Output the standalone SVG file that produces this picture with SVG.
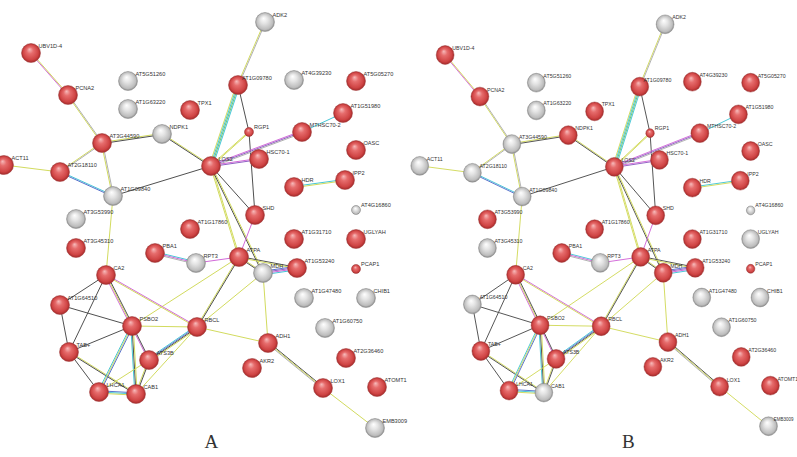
<svg xmlns="http://www.w3.org/2000/svg" xmlns:xlink="http://www.w3.org/1999/xlink" width="797" height="457" viewBox="0 0 797 457">
<defs>
<radialGradient id="gr" cx="0.5" cy="0.5" r="0.5" fx="0.42" fy="0.3">
<stop offset="0" stop-color="#f7bcbc"/><stop offset="0.35" stop-color="#e66c6c"/><stop offset="0.8" stop-color="#cf4444"/><stop offset="1" stop-color="#a52a2a"/>
</radialGradient>
<radialGradient id="gg" cx="0.5" cy="0.5" r="0.5" fx="0.42" fy="0.3">
<stop offset="0" stop-color="#ffffff"/><stop offset="0.4" stop-color="#e4e4e4"/><stop offset="0.85" stop-color="#bdbdbd"/><stop offset="1" stop-color="#8c8c8c"/>
</radialGradient>
<style>
line{stroke-width:1;fill:none}
.Y{stroke:#d2db5e}.K{stroke:#505050}.L{stroke:#b0b0b0}.C{stroke:#45c6d6}.B{stroke:#5a72cc}.M{stroke:#d26ad9}.P{stroke:#9160c4}.G{stroke:#72c46c}
.r{fill:url(#gr);stroke:#a13a3a;stroke-width:.5}
.g{fill:url(#gg);stroke:#8a8a8a;stroke-width:.5}
text{font-family:"Liberation Sans",Arial,sans-serif;font-size:5.6px;fill:#333}
.pl{font-family:"Liberation Serif","Times New Roman",serif;font-size:19px;fill:#333}
</style>
</defs>
<rect width="797" height="457" fill="#fff"/>

<g id="connectors-A">
<line class="M" x1="30.4" y1="53" x2="67.4" y2="95"/><line class="Y" x1="31.6" y1="53" x2="68.6" y2="95"/>
<line class="Y" x1="67.4" y1="95" x2="101.4" y2="143"/><line class="L" x1="68.6" y1="95" x2="102.6" y2="143"/>
<line class="Y" x1="102" y1="142.4" x2="162" y2="133.4"/><line class="K" x1="102" y1="143.6" x2="162" y2="134.6"/>
<line class="Y" x1="162" y1="133.4" x2="211" y2="165.4"/><line class="K" x1="162" y1="134.6" x2="211" y2="166.6"/>
<line class="Y" x1="102" y1="142.4" x2="60" y2="171.4"/><line class="L" x1="102" y1="143.6" x2="60" y2="172.6"/>
<line class="Y" x1="101.4" y1="143" x2="112.4" y2="196"/><line class="L" x1="102.6" y1="143" x2="113.6" y2="196"/>
<line class="Y" x1="4" y1="165" x2="60" y2="172"/>
<line class="C" x1="60" y1="171.4" x2="113" y2="195.4"/><line class="B" x1="60" y1="172.6" x2="113" y2="196.6"/>
<line class="K" x1="113" y1="196" x2="211" y2="166"/>
<line class="Y" x1="113" y1="196" x2="106" y2="275"/>
<line class="Y" x1="264.4" y1="22" x2="237.4" y2="85"/><line class="L" x1="265.6" y1="22" x2="238.6" y2="85"/>
<line class="Y" x1="236.2" y1="85" x2="209.2" y2="166"/><line class="C" x1="237.4" y1="85" x2="210.4" y2="166"/><line class="G" x1="238.6" y1="85" x2="211.6" y2="166"/><line class="C" x1="239.8" y1="85" x2="212.8" y2="166"/>
<line class="K" x1="238" y1="85" x2="249" y2="132"/>
<line class="Y" x1="249" y1="131.4" x2="211" y2="165.4"/><line class="Y" x1="249" y1="132.6" x2="211" y2="166.6"/>
<line class="K" x1="249" y1="132" x2="255" y2="215"/>
<line class="M" x1="211" y1="164.8" x2="302" y2="130.8"/><line class="P" x1="211" y1="166" x2="302" y2="132"/><line class="L" x1="211" y1="167.2" x2="302" y2="133.2"/>
<line class="M" x1="211" y1="165.4" x2="259" y2="158.4"/><line class="P" x1="211" y1="166.6" x2="259" y2="159.6"/>
<line class="C" x1="302" y1="132" x2="343" y2="113"/>
<line class="C" x1="294" y1="186.4" x2="345" y2="179.4"/><line class="Y" x1="294" y1="187.6" x2="345" y2="180.6"/>
<line class="K" x1="211" y1="166" x2="255" y2="215"/>
<line class="Y" x1="210.4" y1="166" x2="238.4" y2="257"/><line class="Y" x1="211.6" y1="166" x2="239.6" y2="257"/>
<line class="K" x1="210.4" y1="166" x2="262.4" y2="273"/><line class="Y" x1="211.6" y1="166" x2="263.6" y2="273"/>
<line class="M" x1="255" y1="215" x2="239" y2="257"/>
<line class="M" x1="239" y1="257" x2="196" y2="263"/>
<line class="C" x1="155" y1="251.8" x2="196" y2="261.8"/><line class="M" x1="155" y1="253" x2="196" y2="263"/><line class="L" x1="155" y1="254.2" x2="196" y2="264.2"/>
<line class="Y" x1="239" y1="256.4" x2="263" y2="272.4"/><line class="K" x1="239" y1="257.6" x2="263" y2="273.6"/>
<line class="K" x1="239" y1="256.4" x2="297" y2="267.4"/><line class="Y" x1="239" y1="257.6" x2="297" y2="268.6"/>
<line class="B" x1="263" y1="271.2" x2="297" y2="266.2"/><line class="P" x1="263" y1="272.4" x2="297" y2="267.4"/><line class="M" x1="263" y1="273.6" x2="297" y2="268.6"/><line class="C" x1="263" y1="274.8" x2="297" y2="269.8"/>
<line class="Y" x1="238.4" y1="257" x2="196.4" y2="327"/><line class="K" x1="239.6" y1="257" x2="197.6" y2="327"/>
<line class="Y" x1="239" y1="257" x2="132" y2="326"/>
<line class="Y" x1="197" y1="327" x2="263" y2="273"/>
<line class="Y" x1="263" y1="273" x2="268" y2="343"/>
<line class="Y" x1="197" y1="327" x2="268" y2="343"/>
<line class="K" x1="268" y1="341.8" x2="323" y2="386.8"/><line class="Y" x1="268" y1="343" x2="323" y2="388"/><line class="L" x1="268" y1="344.2" x2="323" y2="389.2"/>
<line class="Y" x1="323" y1="388" x2="375" y2="428"/>
<line class="K" x1="106" y1="275" x2="60" y2="305"/>
<line class="K" x1="106" y1="275" x2="69" y2="352"/>
<line class="M" x1="104.8" y1="275" x2="130.8" y2="326"/><line class="Y" x1="106" y1="275" x2="132" y2="326"/><line class="K" x1="107.2" y1="275" x2="133.2" y2="326"/>
<line class="M" x1="106" y1="274.4" x2="197" y2="326.4"/><line class="Y" x1="106" y1="275.6" x2="197" y2="327.6"/>
<line class="K" x1="60" y1="305" x2="132" y2="326"/>
<line class="K" x1="60" y1="305" x2="69" y2="352"/>
<line class="K" x1="69" y1="352" x2="132" y2="326"/>
<line class="K" x1="69" y1="352" x2="99" y2="392"/>
<line class="Y" x1="69" y1="351.4" x2="136" y2="393.4"/><line class="K" x1="69" y1="352.6" x2="136" y2="394.6"/>
<line class="C" x1="130.8" y1="326" x2="97.8" y2="392"/><line class="Y" x1="132" y1="326" x2="99" y2="392"/><line class="B" x1="133.2" y1="326" x2="100.2" y2="392"/>
<line class="C" x1="130.8" y1="326" x2="134.8" y2="394"/><line class="K" x1="132" y1="326" x2="136" y2="394"/><line class="Y" x1="133.2" y1="326" x2="137.2" y2="394"/>
<line class="M" x1="131.4" y1="326" x2="148.4" y2="360"/><line class="K" x1="132.6" y1="326" x2="149.6" y2="360"/>
<line class="Y" x1="132" y1="326" x2="197" y2="327"/>
<line class="C" x1="149" y1="358.2" x2="197" y2="325.2"/><line class="B" x1="149" y1="359.4" x2="197" y2="326.4"/><line class="K" x1="149" y1="360.6" x2="197" y2="327.6"/><line class="Y" x1="149" y1="361.8" x2="197" y2="328.8"/>
<line class="Y" x1="149" y1="360" x2="99" y2="392"/>
<line class="Y" x1="148.4" y1="360" x2="135.4" y2="394"/><line class="K" x1="149.6" y1="360" x2="136.6" y2="394"/>
<line class="B" x1="99" y1="390.8" x2="136" y2="392.8"/><line class="C" x1="99" y1="392" x2="136" y2="394"/><line class="Y" x1="99" y1="393.2" x2="136" y2="395.2"/>
<line class="Y" x1="136" y1="394" x2="197" y2="327"/>
</g>

<g id="nodes-A">
<g id="a-UBV1D-4"><circle class="r" cx="31" cy="53" r="9.5"/><text x="38.5" y="48">UBV1D-4</text></g>
<g id="a-PCNA2"><circle class="r" cx="68" cy="95" r="9.5"/><text x="75.5" y="90">PCNA2</text></g>
<g id="a-AT5G51260"><circle class="g" cx="128" cy="81" r="9.5"/><text x="135.5" y="76">AT5G51260</text></g>
<g id="a-AT1G63220"><circle class="g" cx="128" cy="109" r="9.5"/><text x="135.5" y="104">AT1G63220</text></g>
<g id="a-TPX1"><circle class="r" cx="190" cy="110" r="9.5"/><text x="197.5" y="105">TPX1</text></g>
<g id="a-AT3G44590"><circle class="r" cx="102" cy="143" r="9.5"/><text x="109.5" y="138">AT3G44590</text></g>
<g id="a-NDPK1"><circle class="g" cx="162" cy="134" r="9.5"/><text x="169.5" y="129">NDPK1</text></g>
<g id="a-ADK2"><circle class="g" cx="265" cy="22" r="9.5"/><text x="272.5" y="17">ADK2</text></g>
<g id="a-AT1G09780"><circle class="r" cx="238" cy="85" r="9.5"/><text x="242" y="80">AT1G09780</text></g>
<g id="a-AT4G39230"><circle class="g" cx="294" cy="80" r="9.5"/><text x="301.5" y="75">AT4G39230</text></g>
<g id="a-AT5G05270"><circle class="r" cx="356" cy="81" r="9.5"/><text x="363.5" y="76">AT5G05270</text></g>
<g id="a-AT1G51980"><circle class="r" cx="343" cy="113" r="9.5"/><text x="350.5" y="108">AT1G51980</text></g>
<g id="a-RGP1"><circle class="r" cx="249" cy="132" r="4.5"/><text x="254" y="129">RGP1</text></g>
<g id="a-MTHSC70-2"><circle class="r" cx="302" cy="132" r="9.5"/><text x="309.5" y="127">MTHSC70-2</text></g>
<g id="a-OASC"><circle class="r" cx="356" cy="150" r="9.5"/><text x="363.5" y="145">OASC</text></g>
<g id="a-ACT11"><circle class="r" cx="4" cy="165" r="9.5"/><text x="11.5" y="160">ACT11</text></g>
<g id="a-AT2G18110"><circle class="r" cx="60" cy="172" r="9.5"/><text x="67.5" y="167">AT2G18110</text></g>
<g id="a-AT1G09840"><circle class="g" cx="113" cy="196" r="9.5"/><text x="120.5" y="191">AT1G09840</text></g>
<g id="a-AT3G53990"><circle class="g" cx="76" cy="219" r="9.5"/><text x="83.5" y="214">AT3G53990</text></g>
<g id="a-AT3G45310"><circle class="r" cx="76" cy="248" r="9.5"/><text x="83.5" y="243">AT3G45310</text></g>
<g id="a-PBA1"><circle class="r" cx="155" cy="253" r="9.5"/><text x="162.5" y="248">PBA1</text></g>
<g id="a-CA2"><circle class="r" cx="106" cy="275" r="9.5"/><text x="113.5" y="270">CA2</text></g>
<g id="a-AT1G17860"><circle class="r" cx="190" cy="229" r="9.5"/><text x="197.5" y="224">AT1G17860</text></g>
<g id="a-RPT3"><circle class="g" cx="196" cy="263" r="9.5"/><text x="203.5" y="258">RPT3</text></g>
<g id="a-LOS2"><circle class="r" cx="211" cy="166" r="9.5"/><text x="218.5" y="161">LOS2</text></g>
<g id="a-HSC70-1"><circle class="r" cx="259" cy="159" r="9.5"/><text x="266.5" y="154">HSC70-1</text></g>
<g id="a-HDR"><circle class="r" cx="294" cy="187" r="9.5"/><text x="301.5" y="182">HDR</text></g>
<g id="a-IPP2"><circle class="r" cx="345" cy="180" r="9.5"/><text x="352.5" y="175">IPP2</text></g>
<g id="a-SHD"><circle class="r" cx="255" cy="215" r="9.5"/><text x="262.5" y="210">SHD</text></g>
<g id="a-AT4G16860"><circle class="g" cx="356" cy="210" r="4.5"/><text x="361" y="207">AT4G16860</text></g>
<g id="a-AT1G31710"><circle class="r" cx="294" cy="239" r="9.5"/><text x="301.5" y="234">AT1G31710</text></g>
<g id="a-UGLYAH"><circle class="r" cx="356" cy="239" r="9.5"/><text x="363.5" y="234">UGLYAH</text></g>
<g id="a-ATPA"><circle class="r" cx="239" cy="257" r="9.5"/><text x="246.5" y="252">ATPA</text></g>
<g id="a-AT1G53240"><circle class="r" cx="297" cy="268" r="9.5"/><text x="304.5" y="263">AT1G53240</text></g>
<g id="a-PCAP1"><circle class="r" cx="356" cy="269" r="4.5"/><text x="361" y="266">PCAP1</text></g>
<g id="a-MDH"><circle class="g" cx="263" cy="273" r="9.5"/><text x="270.5" y="268">MDH</text></g>
<g id="a-AT1G64510"><circle class="r" cx="60" cy="305" r="9.5"/><text x="67.5" y="300">AT1G64510</text></g>
<g id="a-PSBO2"><circle class="r" cx="132" cy="326" r="9.5"/><text x="139.5" y="321">PSBO2</text></g>
<g id="a-RBCL"><circle class="r" cx="197" cy="327" r="9.5"/><text x="204.5" y="322">RBCL</text></g>
<g id="a-TAB"><circle class="r" cx="69" cy="352" r="9.5"/><text x="76.5" y="347">TAB+</text></g>
<g id="a-ATS3B"><circle class="r" cx="149" cy="360" r="9.5"/><text x="156.5" y="355">ATS3B</text></g>
<g id="a-LHCA1"><circle class="r" cx="99" cy="392" r="9.5"/><text x="106.5" y="387">LHCA1</text></g>
<g id="a-CAB1"><circle class="r" cx="136" cy="394" r="9.5"/><text x="143.5" y="389">CAB1</text></g>
<g id="a-AT1G47480"><circle class="g" cx="304" cy="298" r="9.5"/><text x="311.5" y="293">AT1G47480</text></g>
<g id="a-CHIB1"><circle class="g" cx="366" cy="298" r="9.5"/><text x="373.5" y="293">CHIB1</text></g>
<g id="a-AT1G60750"><circle class="g" cx="325" cy="328" r="9.5"/><text x="332.5" y="323">AT1G60750</text></g>
<g id="a-ADH1"><circle class="r" cx="268" cy="343" r="9.5"/><text x="275.5" y="338">ADH1</text></g>
<g id="a-AT2G36460"><circle class="r" cx="346" cy="358" r="9.5"/><text x="353.5" y="353">AT2G36460</text></g>
<g id="a-AKR2"><circle class="r" cx="252" cy="368" r="9.5"/><text x="259.5" y="363">AKR2</text></g>
<g id="a-LOX1"><circle class="r" cx="323" cy="388" r="9.5"/><text x="330.5" y="383">LOX1</text></g>
<g id="a-ATOMT1"><circle class="r" cx="377" cy="387" r="9.5"/><text x="384.5" y="382">ATOMT1</text></g>
<g id="a-EMB3009"><circle class="g" cx="375" cy="428" r="9.5"/><text x="382.5" y="423">EMB3009</text></g>
</g>

<g id="panel-B" transform="translate(416 2.5) scale(0.94 0.99)">
<g id="connectors-B"><use href="#connectors-A" xlink:href="#connectors-A"/></g>
<g id="nodes-B">
<g id="b-UBV1D-4"><circle class="r" cx="31" cy="53" r="9.5"/><text x="38.5" y="48">UBV1D-4</text></g>
<g id="b-PCNA2"><circle class="r" cx="68" cy="95" r="9.5"/><text x="75.5" y="90">PCNA2</text></g>
<g id="b-AT5G51260"><circle class="g" cx="128" cy="81" r="9.5"/><text x="135.5" y="76">AT5G51260</text></g>
<g id="b-AT1G63220"><circle class="g" cx="128" cy="109" r="9.5"/><text x="135.5" y="104">AT1G63220</text></g>
<g id="b-TPX1"><circle class="r" cx="190" cy="110" r="9.5"/><text x="197.5" y="105">TPX1</text></g>
<g id="b-AT3G44590"><circle class="g" cx="102" cy="143" r="9.5"/><text x="109.5" y="138">AT3G44590</text></g>
<g id="b-NDPK1"><circle class="r" cx="162" cy="134" r="9.5"/><text x="169.5" y="129">NDPK1</text></g>
<g id="b-ADK2"><circle class="g" cx="265" cy="22" r="9.5"/><text x="272.5" y="17">ADK2</text></g>
<g id="b-AT1G09780"><circle class="r" cx="238" cy="85" r="9.5"/><text x="242" y="80">AT1G09780</text></g>
<g id="b-AT4G39230"><circle class="r" cx="294" cy="80" r="9.5"/><text x="301.5" y="75">AT4G39230</text></g>
<g id="b-AT5G05270"><circle class="r" cx="356" cy="81" r="9.5"/><text x="363.5" y="76">AT5G05270</text></g>
<g id="b-AT1G51980"><circle class="r" cx="343" cy="113" r="9.5"/><text x="350.5" y="108">AT1G51980</text></g>
<g id="b-RGP1"><circle class="r" cx="249" cy="132" r="4.5"/><text x="254" y="129">RGP1</text></g>
<g id="b-MTHSC70-2"><circle class="r" cx="302" cy="132" r="9.5"/><text x="309.5" y="127">MTHSC70-2</text></g>
<g id="b-OASC"><circle class="r" cx="356" cy="150" r="9.5"/><text x="363.5" y="145">OASC</text></g>
<g id="b-ACT11"><circle class="g" cx="4" cy="165" r="9.5"/><text x="11.5" y="160">ACT11</text></g>
<g id="b-AT2G18110"><circle class="g" cx="60" cy="172" r="9.5"/><text x="67.5" y="167">AT2G18110</text></g>
<g id="b-AT1G09840"><circle class="g" cx="113" cy="196" r="9.5"/><text x="120.5" y="191">AT1G09840</text></g>
<g id="b-AT3G53990"><circle class="r" cx="76" cy="219" r="9.5"/><text x="83.5" y="214">AT3G53990</text></g>
<g id="b-AT3G45310"><circle class="g" cx="76" cy="248" r="9.5"/><text x="83.5" y="243">AT3G45310</text></g>
<g id="b-PBA1"><circle class="r" cx="155" cy="253" r="9.5"/><text x="162.5" y="248">PBA1</text></g>
<g id="b-CA2"><circle class="r" cx="106" cy="275" r="9.5"/><text x="113.5" y="270">CA2</text></g>
<g id="b-AT1G17860"><circle class="r" cx="190" cy="229" r="9.5"/><text x="197.5" y="224">AT1G17860</text></g>
<g id="b-RPT3"><circle class="g" cx="196" cy="263" r="9.5"/><text x="203.5" y="258">RPT3</text></g>
<g id="b-LOS2"><circle class="r" cx="211" cy="166" r="9.5"/><text x="218.5" y="161">LOS2</text></g>
<g id="b-HSC70-1"><circle class="r" cx="259" cy="159" r="9.5"/><text x="266.5" y="154">HSC70-1</text></g>
<g id="b-HDR"><circle class="r" cx="294" cy="187" r="9.5"/><text x="301.5" y="182">HDR</text></g>
<g id="b-IPP2"><circle class="r" cx="345" cy="180" r="9.5"/><text x="352.5" y="175">IPP2</text></g>
<g id="b-SHD"><circle class="r" cx="255" cy="215" r="9.5"/><text x="262.5" y="210">SHD</text></g>
<g id="b-AT4G16860"><circle class="g" cx="356" cy="210" r="4.5"/><text x="361" y="207">AT4G16860</text></g>
<g id="b-AT1G31710"><circle class="r" cx="294" cy="239" r="9.5"/><text x="301.5" y="234">AT1G31710</text></g>
<g id="b-UGLYAH"><circle class="g" cx="356" cy="239" r="9.5"/><text x="363.5" y="234">UGLYAH</text></g>
<g id="b-ATPA"><circle class="r" cx="239" cy="257" r="9.5"/><text x="246.5" y="252">ATPA</text></g>
<g id="b-AT1G53240"><circle class="r" cx="297" cy="268" r="9.5"/><text x="304.5" y="263">AT1G53240</text></g>
<g id="b-PCAP1"><circle class="r" cx="356" cy="269" r="4.5"/><text x="361" y="266">PCAP1</text></g>
<g id="b-MDH"><circle class="r" cx="263" cy="273" r="9.5"/><text x="270.5" y="268">MDH</text></g>
<g id="b-AT1G64510"><circle class="g" cx="60" cy="305" r="9.5"/><text x="67.5" y="300">AT1G64510</text></g>
<g id="b-PSBO2"><circle class="r" cx="132" cy="326" r="9.5"/><text x="139.5" y="321">PSBO2</text></g>
<g id="b-RBCL"><circle class="r" cx="197" cy="327" r="9.5"/><text x="204.5" y="322">RBCL</text></g>
<g id="b-TAB"><circle class="r" cx="69" cy="352" r="9.5"/><text x="76.5" y="347">TAB+</text></g>
<g id="b-ATS3B"><circle class="r" cx="149" cy="360" r="9.5"/><text x="156.5" y="355">ATS3B</text></g>
<g id="b-LHCA1"><circle class="r" cx="99" cy="392" r="9.5"/><text x="106.5" y="387">LHCA1</text></g>
<g id="b-CAB1"><circle class="g" cx="136" cy="394" r="9.5"/><text x="143.5" y="389">CAB1</text></g>
<g id="b-AT1G47480"><circle class="g" cx="304" cy="298" r="9.5"/><text x="311.5" y="293">AT1G47480</text></g>
<g id="b-CHIB1"><circle class="g" cx="366" cy="298" r="9.5"/><text x="373.5" y="293">CHIB1</text></g>
<g id="b-AT1G60750"><circle class="g" cx="325" cy="328" r="9.5"/><text x="332.5" y="323">AT1G60750</text></g>
<g id="b-ADH1"><circle class="r" cx="268" cy="343" r="9.5"/><text x="275.5" y="338">ADH1</text></g>
<g id="b-AT2G36460"><circle class="r" cx="346" cy="358" r="9.5"/><text x="353.5" y="353">AT2G36460</text></g>
<g id="b-AKR2"><circle class="r" cx="252" cy="368" r="9.5"/><text x="259.5" y="363">AKR2</text></g>
<g id="b-LOX1"><circle class="r" cx="323" cy="388" r="9.5"/><text x="330.5" y="383">LOX1</text></g>
<g id="b-ATOMT1"><circle class="r" cx="377" cy="387" r="9.5"/><text x="384.5" y="382">ATOMT1</text></g>
<g id="b-EMB3009"><circle class="g" cx="375" cy="428" r="9.5"/><text x="380.5" y="423" textLength="21" lengthAdjust="spacingAndGlyphs">EMB3009</text></g>
</g>
</g>

<text class="pl" x="204.5" y="448">A</text>
<text class="pl" x="622" y="448">B</text>
</svg>
